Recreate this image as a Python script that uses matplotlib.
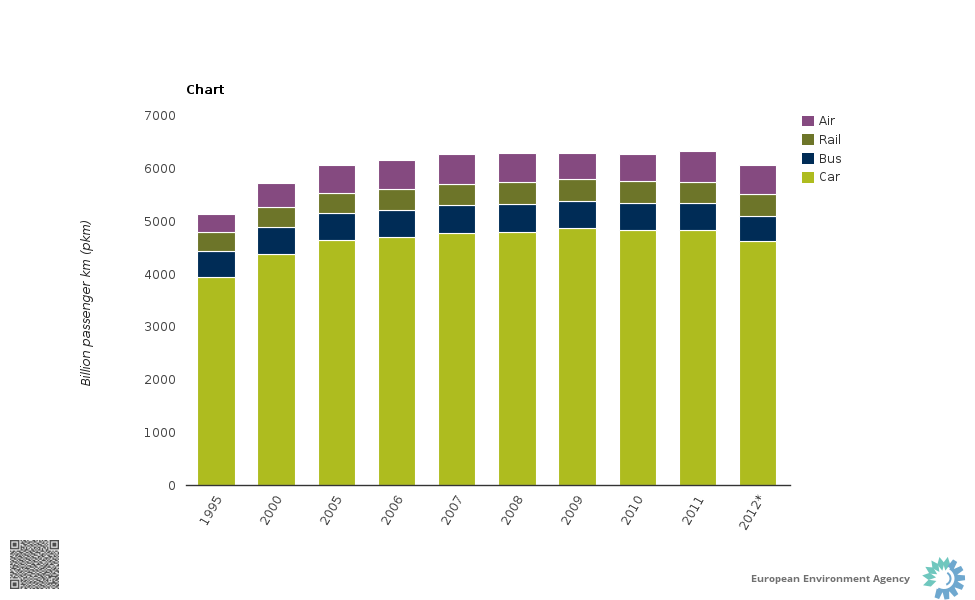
import numpy as np
import matplotlib
matplotlib.use("Agg")
import matplotlib.pyplot as plt
from matplotlib.patches import Polygon, Wedge
from matplotlib.transforms import ScaledTranslation

years = ['1995', '2000', '2005', '2006', '2007', '2008', '2009', '2010', '2011', '2012*']
car = [3940, 4375, 4640, 4695, 4770, 4790, 4865, 4830, 4830, 4620]
bus = [490, 510, 510, 510, 530, 530, 510, 510, 510, 475]
rail = [360, 380, 380, 400, 400, 415, 415, 415, 400, 415]
air = [330, 440, 515, 535, 555, 555, 500, 500, 570, 535]
series_names = ['Car', 'Bus', 'Rail', 'Air']
series_values = [car, bus, rail, air]
series_colors = ['#AEBC1F', '#002C56', '#6D7529', '#854A80']
y_ticks = [0, 1000, 2000, 3000, 4000, 5000, 6000, 7000]

# QR code (1 = dark module)
qr_rows = [
    "1111111010110100011010101011001111111",
    "1000001001011011101100110100101000001",
    "1011101011100110010011001101001011101",
    "1011101000111001101101110010101011101",
    "1011101010010110110010011101001011101",
    "1000001011101001001101100110101000001",
    "1111111010101010101010101010101111111",
    "0000000011011100110101101001100000000",
    "1011011100110011011010011101011010110",
    "0110100111001101100111100010110101001",
    "1101011010110010111000101101001110101",
    "0010110101011101001110011010110001010",
    "1100101110100110110001101100011101101",
    "0111010011011001011101010011101010010",
    "1001101100101110100110110101010011101",
    "0110010111010011011001001110101100110",
    "1011101001101100101110110001011011001",
    "0100110110010111010001011010100101110",
    "1101001011101000111011100101101110001",
    "0011110100010111001100011011010001011",
    "1010011011101001110110100110111010100",
    "0111100101011110001001011101000101101",
    "1001011100100101110110110010111011010",
    "0100101011011010011011001101001100111",
    "1110010110100111100100110011110101001",
    "0011101001011000111011001110001011100",
    "1100110110110111000101110101110100011",
    "0101001011001001101110011010011111110",
    "1011110100111010010001101101011000101",
    "0000000010100101101110010110100011011",
    "1111111011011010010011100101101010110",
    "1000001010110101101100111010100011001",
    "1011101001001011011011001101011111110",
    "1011101011110100100110110010110100101",
    "1011101000101011011001011101001011011",
    "1000001011010110100110100110110100110",
    "1111111010011001011011011001010011001",
]

plt.rcParams['font.family'] = 'DejaVu Sans'
plt.rcParams['text.hinting'] = 'native'
plt.rcParams['text.hinting_factor'] = 1
W, H = 975, 600
fig = plt.figure(figsize=(W / 100, H / 100), dpi=100, facecolor='white')
ax = fig.add_axes([186 / W, 1 - 485 / H, 604 / W, 370 / H])

bottom = np.zeros(len(years))
x = np.arange(len(years))
handles = {}
for name, vals, col in zip(series_names, series_values, series_colors):
    handles[name] = ax.bar(x, vals, width=0.62, bottom=bottom, color=col,
                           edgecolor='white', linewidth=0.8, label=name, zorder=2)
    bottom += np.array(vals)

ax.set_xlim(-0.497, 9.537)
ax.set_ylim(0, 7000)
ax.set_yticks(y_ticks)
ax.set_xticks(x)
ax.set_xticklabels(years, rotation=60, ha='right', va='top', rotation_mode='anchor')
for s in ['top', 'right', 'left']:
    ax.spines[s].set_visible(False)
ax.spines['bottom'].set_color('#333333')
ax.spines['bottom'].set_linewidth(1.0)
ax.spines['bottom'].set_zorder(3)
ax.tick_params(axis='both', length=0, labelsize=8.4, labelcolor='#444444')
ax.tick_params(axis='x', pad=5)
ax.tick_params(axis='y', pad=7.2)
shift = ScaledTranslation(-1.5 / 100, 0, fig.dpi_scale_trans)
for lab in ax.get_xticklabels():
    lab.set_transform(lab.get_transform() + shift)

fig.text(186 / W, 1 - 90 / H, 'Chart', fontsize=8.8, fontweight='bold', color='black',
         ha='left', va='center')
fig.text(87 / W, 1 - 301.5 / H, 'Billion passenger km (pkm)', fontsize=8.3, style='italic',
         color='#222222', rotation=90, ha='center', va='center')

hs = [handles[n] for n in series_names[::-1]]
leg = ax.legend(hs, series_names[::-1], loc='upper left',
                bbox_to_anchor=(802 / W, 1 - 115 / H), bbox_transform=fig.transFigure,
                frameon=False, fontsize=8.3, borderaxespad=0, borderpad=0,
                handlelength=1.05, handleheight=1.05, handletextpad=0.4, labelspacing=0.5,
                labelcolor='#333333')
for p in leg.get_patches():
    p.set_edgecolor('none')

# Page furniture in pixel coordinates (y grows downward here)
ov = fig.add_axes([0, 0, 1, 1], facecolor='none')
ov.axis('off')

# QR code
qr = np.array([[int(c) for c in row] for row in qr_rows])
ov.imshow(1 - qr, cmap='gray', vmin=-0.5, vmax=1.15, extent=(10, 59, 589, 540),
          interpolation='bilinear', aspect='auto')
ov.set_xlim(0, W)
ov.set_ylim(H, 0)

# Agency name and logo
ov.text(751, 579.5, 'European Environment Agency', fontsize=7.55, fontweight='bold',
        family='Open Sans', color='#707070', ha='left', va='center')
c = np.array([944, 578.5])


def unit(deg):
    a = np.radians(deg)
    return np.array([np.cos(a), -np.sin(a)]), np.array([-np.sin(a), -np.cos(a)])


for ang in [80, 102, 125, 148, 172, 198]:
    d, n = unit(ang)
    ov.add_patch(Polygon([c + d * 8, c + d * 15 + n * 3.6, c + d * 22, c + d * 15 - n * 3.6],
                         closed=True, fc='#6FC7BE', ec='none'))
blue = '#6FA8CF'
ov.add_patch(Wedge(tuple(c), 14, -60, 120, width=3.5, fc=blue, ec='none'))
ov.add_patch(Wedge(tuple(c), 7.5, -60, 70, width=2, fc=blue, ec='none'))
for ang in [58, 30, 2, -26, -54, -82, -110]:
    d, n = unit(ang)
    ov.add_patch(Polygon([c + d * 12 + n * 3.4, c + d * 21 + n * 2.4, c + d * 21 - n * 2.4, c + d * 12 - n * 3.4],
                         closed=True, fc=blue, ec='none'))

fig.savefig('out.png', dpi=100, facecolor='white')
